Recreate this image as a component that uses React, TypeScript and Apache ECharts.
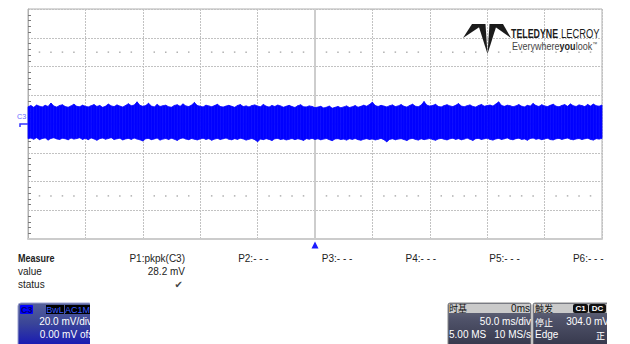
import React, { useEffect, useRef } from "react";
import * as echarts from "echarts";

// Time base: 50 ms/div, 10 divisions, trigger at centre
const X_MIN = -250;
const X_MAX = 250;
const X_DIV = 50;
// Vertical: 20 mV/div, 8 divisions
const Y_MIN = -80;
const Y_MAX = 80;
const Y_DIV = 20;

// Envelope sampled every 2.5 ms starting at -250 ms
const T0 = -250;
const DT = 2.5;

const upperEnvelope = [
  12.0, 12.8, 11.6, 13.2, 12.4, 11.9, 13.0, 12.2, 14.6, 12.5, 11.8, 12.9, 13.4, 12.1, 11.7, 12.6, 13.8, 12.3, 12.0, 13.1,
  12.4, 11.9, 12.7, 13.5, 12.2, 12.9, 11.6, 12.4, 13.9, 12.6, 12.1, 13.3, 12.5, 11.8, 12.9, 14.1, 12.7, 13.2, 15.4, 13.0,
  12.3, 12.8, 14.4, 12.5, 11.9, 13.6, 12.2, 12.7, 13.1, 12.0, 11.7, 12.9, 13.4, 12.3, 14.0, 12.6, 12.1, 13.2, 15.0, 12.8,
  12.4, 11.9, 13.1, 12.6, 12.0, 12.8, 13.7, 12.2, 11.8, 12.5, 13.0, 12.3, 11.6, 12.9, 13.5, 12.1, 12.6, 11.9, 12.8, 13.3,
  12.5, 12.0, 13.6, 12.4, 11.8, 12.9, 12.2, 13.2, 12.6, 11.7, 12.4, 13.0, 12.1, 11.5, 12.7, 13.4, 12.0, 11.9, 12.6, 12.2,
  11.4, 11.8, 12.3, 11.2, 11.7, 12.5, 11.0, 11.6, 12.2, 11.3, 11.9, 12.6, 11.5, 12.0, 12.8, 11.7, 12.3, 13.1, 12.4, 13.6,
  15.2, 12.8, 12.2, 13.0, 12.5, 11.9, 12.7, 13.3, 12.1, 12.6, 13.5, 12.3, 11.8, 12.9, 13.8, 12.4, 12.0, 13.2, 15.6, 13.1,
  12.5, 12.9, 13.7, 12.2, 11.9, 12.8, 13.4, 12.6, 12.1, 13.0, 14.2, 12.5, 12.0, 12.7, 13.3, 12.2, 11.8, 12.9, 13.6, 12.4,
  12.8, 13.2, 12.5, 13.9, 15.4, 12.9, 12.3, 13.1, 12.7, 12.0, 12.6, 13.5, 12.4, 11.9, 13.0, 12.5, 14.3, 12.8, 12.2, 13.4,
  12.6, 12.1, 13.0, 13.8, 12.4, 12.0, 12.9, 13.5, 12.3, 14.0, 12.7, 12.2, 13.3, 12.8, 12.1, 13.6, 12.5, 13.9, 12.7, 12.4, 13.2,
];

const lowerEnvelope = [
  -10.2, -9.8, -10.6, -9.5, -10.9, -10.1, -9.7, -11.2, -10.0, -9.6, -10.4, -10.8, -9.9, -10.3, -11.0, -9.8, -10.5, -10.1, -9.6, -10.7,
  -10.0, -10.9, -9.7, -10.4, -11.3, -10.2, -9.8, -10.6, -10.1, -9.5, -10.8, -10.3, -9.9, -11.1, -10.4, -10.0, -10.7, -9.8, -10.5, -11.0,
  -11.8, -10.3, -10.0, -10.9, -10.4, -9.8, -11.2, -10.5, -10.1, -10.8, -9.9, -10.6, -11.4, -10.2, -9.7, -10.5, -10.9, -10.1, -10.6, -11.1,
  -10.4, -9.9, -10.7, -10.2, -11.3, -10.5, -10.0, -10.8, -10.3, -9.8, -10.6, -11.0, -10.2, -10.7, -9.9, -10.4, -11.2, -10.6, -10.1, -10.9,
  -12.3, -10.5, -10.9, -10.2, -10.7, -11.5, -10.3, -10.0, -10.8, -10.4, -11.1, -10.6, -10.1, -10.9, -10.3, -10.7, -11.4, -10.2, -10.6, -10.0,
  -10.8, -10.3, -11.0, -10.5, -10.1, -10.9, -11.6, -10.4, -10.2, -10.8, -10.5, -11.2, -10.3, -10.7, -10.1, -10.9, -11.3, -10.6, -10.2, -10.8,
  -10.4, -11.1, -10.6, -10.0, -10.9, -12.4, -10.7, -10.3, -11.0, -10.5, -10.2, -10.8, -11.5, -10.4, -10.0, -10.7, -11.2, -10.3, -10.9, -10.5,
  -10.1, -10.8, -11.3, -10.4, -10.0, -10.6, -11.1, -10.3, -9.9, -10.7, -10.2, -11.0, -10.5, -9.8, -10.6, -11.4, -10.2, -10.0, -10.8, -10.3,
  -9.9, -10.7, -11.2, -10.4, -10.0, -10.8, -10.3, -9.7, -10.6, -11.0, -10.2, -9.9, -10.7, -10.4, -11.3, -10.1, -9.8, -10.6, -10.2, -10.9,
  -10.4, -9.9, -10.8, -11.1, -10.3, -10.0, -10.7, -10.2, -9.8, -10.6, -11.0, -10.4, -10.1, -10.8, -10.3, -9.9, -10.7, -11.2, -10.2, -10.5, -10.0,
];

// Measurement table
const measureLabels = ["P1:pkpk(C3)", "P2:- - -", "P3:- - -", "P4:- - -", "P5:- - -", "P6:- - -"];
const measureValues = ["28.2 mV", "", "", "", "", ""];
const measureStatus = ["\u2714", "", "", "", "", ""];

// Channel / timebase / trigger descriptors
const channelName = "C3";
const channelTags = ["BwL", "AC1M"];
const channelScale = "20.0 mV/div";
const channelOffset = "0.00 mV ofst";
const timebaseTitle = "时基";
const timebaseDelay = "0ms";
const timebaseScale = "50.0 ms/div";
const timebaseSamples = "5.00 MS";
const timebaseRate = "10 MS/s";
const triggerTitle = "触发";
const triggerTags = ["C1", "DC"];
const triggerMode = "停止";
const triggerLevel = "304.0 mV";
const triggerType = "Edge";
const triggerSlope = "正";

const FONT = "'Liberation Sans', Arial, sans-serif";
const CJK = "'Noto Sans CJK SC', 'Liberation Sans', sans-serif";

function txt(text: string, x: number, y: number, opts: any = {}) {
  return {
    type: "text",
    x,
    y,
    scaleX: opts.scaleX ?? 1,
    z: opts.z ?? 20,
    style: {
      text,
      x: 0,
      y: 0,
      fill: opts.fill ?? "#222",
      font: opts.font ?? `10px ${FONT}`,
      align: opts.align ?? "left",
      verticalAlign: "middle",
      textAlign: opts.align ?? "left",
      textVerticalAlign: "middle",
    },
  };
}

export default function App() {
  const ref = useRef<HTMLDivElement>(null);

  useEffect(() => {
    if (!ref.current) return;
    const chart = echarts.init(ref.current, undefined, { renderer: "svg" });

    const N = upperEnvelope.length;
    const envData = upperEnvelope.map((v, i) => [T0 + i * DT, lowerEnvelope[i], v]);

    // sub-division dots on the +/-2.5 div lines
    const dots: number[][] = [];
    for (const yv of [2.5 * Y_DIV, -2.5 * Y_DIV]) {
      for (let t = X_MIN + X_DIV / 5; t < X_MAX; t += X_DIV / 5) {
        if (Math.abs(t % X_DIV) > 0.001) dots.push([t, yv]);
      }
    }

    const colW = 83.7;
    const graphic: any[] = [];

    // channel marker on the left
    graphic.push(txt("C3", 17, 116, { fill: "#6a6aff", font: `8px ${FONT}`, scaleX: 0.9 }));
    graphic.push({
      type: "polyline",
      z: 20,
      shape: { points: [[20, 127], [20, 124], [28, 124]] },
      style: { stroke: "#3333ff", lineWidth: 1.5, fill: null },
    });

    // Logo
    const logoPolys = [
      [[472, 24], [484, 24], [463, 38]],
      [[478, 24], [485.5, 24], [487.5, 54]],
      [[489.5, 24], [497, 24], [487.5, 54]],
      [[491, 24], [503, 24], [511, 38]],
    ];
    logoPolys.forEach((p) =>
      graphic.push({ type: "polygon", z: 20, shape: { points: p }, style: { fill: "#1b1b1b" } })
    );
    graphic.push(txt("TELEDYNE", 511, 33, { font: `bold 13px ${FONT}`, fill: "#1b1b1b", scaleX: 0.68 }));
    graphic.push(txt("LECROY", 561, 33, { font: `13px ${FONT}`, fill: "#1b1b1b", scaleX: 0.72 }));
    graphic.push({
      type: "text",
      x: 512,
      y: 46,
      scaleX: 0.82,
      z: 20,
      style: {
        text: "{a|Everywhere}{b|you}{a|look}{c|™}",
        x: 0,
        y: 0,
        verticalAlign: "middle",
        textVerticalAlign: "middle",
        rich: {
          a: { font: `11px ${FONT}`, fill: "#444" },
          b: { font: `bold 11px ${FONT}`, fill: "#222" },
          c: { font: `6px ${FONT}`, fill: "#444", verticalAlign: "top" },
        },
      },
    });

    // Measure table
    graphic.push(txt("Measure", 18, 258, { font: `bold 10px ${FONT}`, scaleX: 0.9 }));
    graphic.push(txt("value", 18, 271));
    graphic.push(txt("status", 18, 284));
    measureLabels.forEach((l, i) => {
      const xr = 185 + i * colW;
      graphic.push(txt(l, xr, 258, { align: "right" }));
      if (measureValues[i]) graphic.push(txt(measureValues[i], xr, 271, { align: "right" }));
      if (measureStatus[i])
        graphic.push(txt(measureStatus[i], xr - 2, 284, { align: "right", fill: "#444", font: `10px 'DejaVu Sans', sans-serif` }));
    });

    // Channel box
    graphic.push({
      type: "rect",
      z: 15,
      shape: { x: 18, y: 303, width: 74, height: 45, r: 3 },
      style: {
        fill: new echarts.graphic.LinearGradient(0, 0, 0, 1, [
          { offset: 0, color: "#55609a" },
          { offset: 0.45, color: "#3a4598" },
          { offset: 1, color: "#1414b8" },
        ]),
        stroke: "#9aa0d0",
        lineWidth: 1,
      },
    });
    graphic.push({ type: "rect", z: 16, shape: { x: 20, y: 305, width: 13, height: 9, r: 1 }, style: { fill: "#0000ff" } });
    graphic.push(txt(channelName, 21, 309.5, { fill: "#00006a", font: `bold 9px ${FONT}` }));
    graphic.push({ type: "rect", z: 16, shape: { x: 46, y: 305, width: 18, height: 9 }, style: { fill: "#000" } });
    graphic.push(txt(channelTags[0], 55, 309.5, { align: "center", fill: "#3a5cff", font: `9px ${FONT}` }));
    graphic.push({ type: "rect", z: 16, shape: { x: 65, y: 305, width: 25, height: 9 }, style: { fill: "#000" } });
    graphic.push(txt(channelTags[1], 77.5, 309.5, { align: "center", fill: "#3a5cff", font: `9px ${FONT}` }));
    graphic.push(txt(channelScale, 92, 321, { align: "right", fill: "#ffffff" }));
    graphic.push(txt(channelOffset, 96, 334, { align: "right", fill: "#ffffff" }));

    // Timebase box
    const boxGrad = () =>
      new echarts.graphic.LinearGradient(0, 0, 0, 1, [
        { offset: 0, color: "#6b6f80" },
        { offset: 0.35, color: "#50536a" },
        { offset: 1, color: "#34364a" },
      ]);
    graphic.push({
      type: "rect",
      z: 15,
      shape: { x: 448, y: 303, width: 83, height: 45, r: 2 },
      style: { fill: boxGrad(), stroke: "#888", lineWidth: 1 },
    });
    graphic.push({ type: "rect", z: 16, shape: { x: 449, y: 304, width: 81, height: 9 }, style: { fill: "#cacaca" } });
    graphic.push(txt(timebaseTitle, 449, 308.5, { font: `9px ${CJK}`, fill: "#111" }));
    graphic.push(txt(timebaseDelay, 530, 308.5, { align: "right", fill: "#111" }));
    graphic.push(txt(timebaseScale, 531, 321.5, { align: "right", fill: "#fff" }));
    graphic.push(txt(timebaseSamples, 449, 334, { fill: "#fff" }));
    graphic.push(txt(timebaseRate, 531, 334, { align: "right", fill: "#fff" }));

    // Trigger box
    graphic.push({
      type: "rect",
      z: 15,
      shape: { x: 533, y: 303, width: 76, height: 45, r: 2 },
      style: { fill: boxGrad(), stroke: "#888", lineWidth: 1 },
    });
    graphic.push({ type: "rect", z: 16, shape: { x: 534, y: 304, width: 74, height: 9 }, style: { fill: "#cacaca" } });
    graphic.push(txt(triggerTitle, 535, 308.5, { font: `9px ${CJK}`, fill: "#111" }));
    graphic.push({ type: "rect", z: 17, shape: { x: 573, y: 304, width: 15, height: 9, r: 2 }, style: { fill: "#111" } });
    graphic.push(txt(triggerTags[0], 580.5, 308.5, { align: "center", fill: "#fff", font: `bold 8px ${FONT}` }));
    graphic.push({ type: "rect", z: 17, shape: { x: 589, y: 304, width: 17, height: 9, r: 2 }, style: { fill: "#111" } });
    graphic.push(txt(triggerTags[1], 597.5, 308.5, { align: "center", fill: "#fff", font: `bold 8px ${FONT}` }));
    graphic.push(txt(triggerMode, 535, 322, { font: `9px ${CJK}`, fill: "#fff" }));
    graphic.push(txt(triggerLevel, 609, 321.5, { align: "right", fill: "#fff" }));
    graphic.push(txt(triggerType, 535, 334, { fill: "#fff" }));
    graphic.push(txt(triggerSlope, 605, 335, { align: "right", font: `9px ${CJK}`, fill: "#fff" }));

    // clip covers (white) to the right of the cut-off boxes
    graphic.push({ type: "rect", z: 30, shape: { x: 90, y: 300, width: 14, height: 44 }, style: { fill: "#fff" } });
    graphic.push({ type: "rect", z: 30, shape: { x: 607, y: 300, width: 23, height: 44 }, style: { fill: "#fff" } });

    const gridLine = { show: true, lineStyle: { color: "#c2c2c2", type: [2, 1], width: 1 } };
    const centreLine = { type: "solid", color: "#cdcdcd", width: 2 };

    chart.setOption({
      animation: false,
      backgroundColor: "#ffffff",
      grid: {
        left: 28,
        right: 28,
        top: 9,
        bottom: 105,
        show: true,
        borderColor: "#b0b0b0",
        borderWidth: 1,
        backgroundColor: "transparent",
      },
      xAxis: {
        type: "value",
        min: X_MIN,
        max: X_MAX,
        interval: X_DIV,
        axisLabel: { show: false },
        axisTick: { show: false },
        axisLine: { show: true, onZero: false, lineStyle: { color: "#cccccc", width: 2 } },
        splitLine: gridLine,
      },
      yAxis: {
        type: "value",
        min: Y_MIN,
        max: Y_MAX,
        interval: Y_DIV,
        axisLabel: { show: false },
        axisTick: { show: false, inside: true },
        minorTick: { show: true, splitNumber: 5, length: 3, lineStyle: { color: "#7a7a7a" } },
        axisLine: { show: true, onZero: false, lineStyle: { color: "#b0b0b0", width: 1 } },
        splitLine: gridLine,
      },
      series: [
        {
          name: "centre-v",
          type: "line",
          data: [[0, Y_MIN], [0, Y_MAX]],
          symbol: "none",
          lineStyle: centreLine,
          silent: true,
          z: 1,
        },
        {
          name: "centre-h",
          type: "line",
          data: [[X_MIN, 0], [X_MAX, 0]],
          symbol: "none",
          lineStyle: centreLine,
          silent: true,
          z: 1,
        },
        {
          name: "grid-dots",
          type: "scatter",
          data: dots,
          symbol: "rect",
          symbolSize: 1.5,
          itemStyle: { color: "#9c9c9c" },
          silent: true,
          z: 1,
          markPoint: {
            silent: true,
            symbol: "triangle",
            symbolSize: [7, 7],
            symbolOffset: [0, 6],
            itemStyle: { color: "#1a1aff" },
            label: { show: false },
            data: [{ coord: [0, Y_MIN] }],
          },
        },
        {
          name: "C3",
          type: "custom",
          data: envData,
          encode: { x: 0, y: [1, 2] },
          z: 3,
          silent: true,
          renderItem: (params: any, api: any) => {
            const i = params.dataIndex;
            if (i >= N - 1) return null;
            const t0 = T0 + i * DT;
            const t1 = T0 + (i + 1) * DT;
            const pts = [
              api.coord([t0, upperEnvelope[i]]),
              api.coord([t1, upperEnvelope[i + 1]]),
              api.coord([t1, lowerEnvelope[i + 1]]),
              api.coord([t0, lowerEnvelope[i]]),
            ];
            return {
              type: "polygon",
              shape: { points: pts },
              style: { fill: "#0000ff", stroke: "#0a0aff", lineWidth: 0.8 },
            };
          },
        },
      ],
      graphic,
    });

    return () => chart.dispose();
  }, []);

  return (
    <div
      ref={ref}
      style={{ position: "absolute", left: 0, top: 0, width: 630, height: 344, background: "#fff" }}
    />
  );
}
